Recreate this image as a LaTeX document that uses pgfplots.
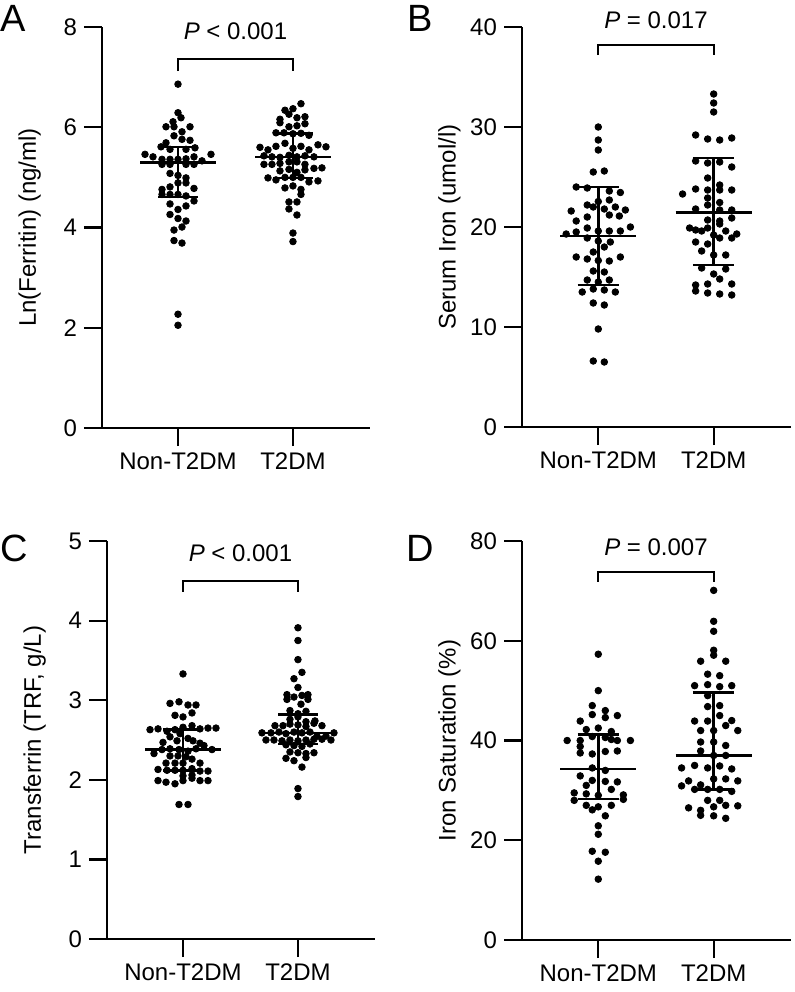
\documentclass[border=0pt]{standalone}
\usepackage{pgfplots}
\pgfplotsset{compat=1.18}
\usepackage{pgfplotstable}
\usepackage{fontspec}
\setmainfont{Liberation Sans}

% dot offsets d are in pixels of the original figure (115 px = one category step)
\pgfplotstableread{
d v
0 6.86
0 6.29
3 6.19
-5 6.11
-12 6.01
-4 6.01
12 6.01
4 5.91
-4 5.83
4 5.76
12 5.74
-12 5.69
-17 5.61
-8 5.56
8 5.56
17 5.59
-33 5.46
-25 5.41
33 5.46
-16 5.36
-8 5.36
0 5.36
8 5.37
16 5.41
24 5.33
-16 5.26
-8 5.26
8 5.26
16 5.26
-8 5.08
0 5.04
8 4.99
0 4.89
8 4.89
-16 4.76
-8 4.81
16 4.78
-16 4.66
-8 4.66
0 4.66
8 4.63
16 4.53
-8 4.47
8 4.43
0 4.36
-8 4.26
0 4.18
8 4.13
4 4.01
-4 3.95
-4 3.74
4 3.69
0 2.27
0 2.05
}\Anon
\pgfplotstableread{
d v
8 6.47
0 6.37
-8 6.34
-4 6.26
4 6.19
12 6.21
-13 6.16
-13 6.09
-4 6.01
4 6.03
12 6.07
-17 5.89
-9 5.89
0 5.87
8 5.88
16 5.84
-33 5.60
-25 5.55
-17 5.62
-8 5.68
0 5.58
8 5.62
16 5.55
25 5.65
33 5.61
-29 5.43
-21 5.41
-13 5.40
-4 5.44
4 5.41
12 5.43
21 5.41
-29 5.26
-21 5.26
-13 5.28
-4 5.31
4 5.31
12 5.26
21 5.18
29 5.19
-13 5.13
-4 5.16
4 5.10
12 5.15
-25 4.99
-17 4.95
-8 5.00
0 5.00
8 5.00
16 4.91
25 4.93
-8 4.79
0 4.83
8 4.76
8 4.66
-4 4.51
4 4.51
-4 4.37
4 4.25
0 3.89
0 3.72
}\Atd
\pgfplotstableread{
d v
0 30.0
0 28.7
0 27.7
-5 25.5
6 25.6
-22 24.0
-11 23.9
11 23.6
22 23.45
-11 22.2
0 22.55
11 22.7
17 22.0
-27 21.6
-5 22.0
6 21.8
27 21.7
21 21.1
-22 20.6
-11 21.0
11 21.2
-32 19.3
-22 19.5
-11 19.9
0 19.6
11 19.6
22 19.6
32 20.0
-11 18.9
0 18.6
6 18.0
12 18.5
-5 17.5
-22 17.0
-11 16.8
0 16.65
11 16.6
22 17.0
-5 15.6
6 15.5
-11 14.7
0 14.5
11 14.7
-16 13.5
-5 13.8
6 13.7
17 13.5
-5 12.4
6 12.2
0 9.8
-5 6.6
6 6.5
}\Bnon
\pgfplotstableread{
d v
0 33.3
0 32.4
0 31.5
-18 29.2
-6 28.8
6 28.7
18 28.9
-18 26.6
-6 26.4
6 26.5
18 26.0
-6 24.9
6 24.2
-31 23.3
-18 23.8
-6 23.7
6 23.7
18 23.7
-6 22.9
-6 22.2
6 22.45
-18 21.8
6 21.7
18 21.7
-6 20.7
6 20.6
18 20.9
-24 19.9
-18 19.7
-12 19.6
-6 19.9
6 20.3
12 19.6
23 19.3
-18 18.5
-6 18.3
0 19.2
6 18.9
18 18.9
-12 17.6
0 17.2
12 17.2
-12 15.9
0 15.3
12 15.8
-18 14.2
-6 14.3
6 14.8
18 14.3
-18 13.6
-6 13.4
6 13.3
18 13.2
}\Btd
\pgfplotstableread{
d v
0 3.33
-13 2.96
-4 2.98
5 2.94
13 2.94
-8 2.81
0 2.79
9 2.84
-33 2.63
-25 2.64
-16 2.61
-8 2.63
0 2.66
9 2.68
17 2.64
25 2.65
33 2.65
-20 2.47
-13 2.54
-6 2.49
-3 2.58
5 2.52
10 2.49
17 2.46
-29 2.33
-21 2.38
-13 2.39
-4 2.38
5 2.36
13 2.39
21 2.43
29 2.38
-13 2.30
-5 2.30
3 2.29
9 2.26
-17 2.21
-8 2.21
0 2.21
17 2.21
-25 2.13
-16 2.12
-8 2.12
0 2.12
9 2.14
17 2.11
25 2.11
0 2.05
9 2.06
-25 1.99
-17 1.97
-8 1.95
0 1.99
9 2.02
17 1.99
25 1.99
-4 1.69
5 1.69
}\Cnon
\pgfplotstableread{
d v
0 3.91
0 3.75
0 3.51
4 3.35
-4 3.27
0 3.16
-11 3.07
-11 3.01
-4 3.04
4 3.06
10 3.07
10 3.01
3 2.95
-8 2.87
8 2.86
0 2.83
-8 2.76
0 2.79
8 2.73
17 2.74
-23 2.68
-15 2.68
-8 2.70
0 2.69
8 2.67
16 2.71
24 2.68
-36 2.59
-27 2.59
-19 2.60
-12 2.58
-4 2.60
4 2.59
12 2.60
19 2.55
28 2.55
36 2.59
-32 2.50
-24 2.50
-16 2.49
-8 2.50
0 2.49
8 2.50
16 2.51
24 2.51
33 2.50
-12 2.44
-4 2.43
4 2.42
12 2.45
-8 2.35
0 2.34
8 2.33
16 2.34
-12 2.27
-4 2.24
8 2.28
4 2.16
0 1.89
0 1.79
}\Ctd
\pgfplotstableread{
d v
0 57.3
0 50.0
-6 47.0
7 46.0
-6 45.2
7 44.6
-18 43.9
19 45.0
-12 42.2
0 42.5
13 41.8
-31 40.0
-18 40.0
-6 40.8
7 40.6
13 40.2
19 40.0
32 40.0
-18 38.8
-18 37.5
-6 37.3
7 37.8
19 37.9
-6 34.5
7 34.0
-18 32.9
-6 32.0
7 31.8
19 31.7
-12 31.0
13 30.2
-24 29.5
-12 29.3
0 29.0
25 29.1
25 28.2
-24 28.0
-12 27.0
-6 26.1
0 26.7
13 27.0
7 24.9
0 22.9
0 21.2
-6 17.8
7 17.6
0 15.8
0 12.2
}\Dnon
\pgfplotstableread{
d v
0 70.1
0 63.9
0 61.9
0 58.1
0 57.1
-13 55.9
12 55.9
-6 53.3
6 53.0
-19 51.0
-6 51.2
6 50.8
18 51.0
-6 49.0
-6 46.8
6 47.0
-19 43.9
-6 43.9
6 45.0
12 43.0
18 44.0
-13 42.0
0 42.0
24 42.0
-13 39.7
0 39.7
12 39.0
-13 37.9
0 37.0
12 37.0
-32 34.5
-19 35.0
-6 34.5
6 34.9
18 34.3
-25 31.9
0 32.3
12 32.3
24 31.9
-32 30.9
-13 31.1
-19 30.2
-6 30.2
6 30.2
18 29.8
-6 28.0
6 28.0
-25 26.5
-13 26.0
0 26.7
12 27.0
24 26.9
-13 25.0
0 24.9
12 24.4
}\Dtd

\pgfplotsset{
  swarm/.style={
    scale only axis, anchor=south west,
    axis x line=bottom, axis y line=left,
    axis line style={-, line width=1.1pt},
    major tick style={line width=1.1pt, black},
    tick align=outside, major tick length=9pt,
    xmin=-0.661, xmax=1.67, ymin=0, enlargelimits=false,
    xtick={0,1}, xticklabels={Non-T2DM,T2DM},
    tick label style={font=\fontsize{12}{14}\selectfont},
    label style={font=\fontsize{12}{14}\selectfont},
    /pgf/number format/assume math mode=true,
    ylabel style={at={(axis description cs:-0.27,0.5)}, anchor=center},
    clip=false, unbounded coords=jump,
  },
  dots/.style={only marks, mark=*, mark size=1.65pt, black, mark options={fill=black, draw=black}},
  summ/.style={black, line width=1.3pt, mark=none},
}

\begin{document}
\begin{tikzpicture}
\useasboundingbox (0,0) rectangle (397pt,-496pt);
\node[font=\fontsize{19}{22}\selectfont] at (6.5pt,-9pt) {A};
\node[font=\fontsize{19}{22}\selectfont] at (210pt,-9pt) {B};
\node[font=\fontsize{19}{22}\selectfont] at (7pt,-274pt) {C};
\node[font=\fontsize{19}{22}\selectfont] at (210pt,-274pt) {D};

% A
\begin{axis}[swarm, at={(51pt,-214pt)}, width=134pt, height=200.5pt,
  ymax=8, ytick={0,2,4,6,8}, ylabel={Ln(Ferritin) (ng/ml)}]
\addplot[dots] table[x expr=\thisrow{d}/115, y=v] {\Anon};
\addplot[dots] table[x expr=\thisrow{d}/115+1, y=v] {\Atd};
\addplot[summ] coordinates {(-0.33,5.3) (0.33,5.3) (nan,nan) (-0.17,5.61) (0.17,5.61) (nan,nan) (0,5.61) (0,4.61) (nan,nan) (-0.17,4.61) (0.17,4.61)};
\addplot[summ] coordinates {(0.67,5.41) (1.33,5.41) (nan,nan) (0.83,5.87) (1.17,5.87) (nan,nan) (1,5.87) (1,4.99) (nan,nan) (0.83,4.99) (1.17,4.99)};
\draw[line width=1pt] (axis cs:0,7.12) -- (axis cs:0,7.36) -- (axis cs:1,7.36) -- (axis cs:1,7.12);
\node[font=\fontsize{12}{14}\selectfont] at (axis cs:0.5,7.92) {\textit{P} < 0.001};
\end{axis}

% B
\begin{axis}[swarm, at={(261pt,-213.5pt)}, width=134.5pt, height=200pt,
  ymax=40, ytick={0,10,20,30,40}, ylabel={Serum Iron (umol/l)}]
\addplot[dots] table[x expr=\thisrow{d}/115, y=v] {\Bnon};
\addplot[dots] table[x expr=\thisrow{d}/115+1, y=v] {\Btd};
\addplot[summ] coordinates {(-0.33,19.1) (0.33,19.1) (nan,nan) (-0.18,24.0) (0.18,24.0) (nan,nan) (0,24.0) (0,14.2) (nan,nan) (-0.18,14.2) (0.18,14.2)};
\addplot[summ] coordinates {(0.67,21.46) (1.33,21.46) (nan,nan) (0.82,26.9) (1.18,26.9) (nan,nan) (1,26.9) (1,16.2) (nan,nan) (0.82,16.2) (1.18,16.2)};
\draw[line width=1pt] (axis cs:0,37.2) -- (axis cs:0,38.2) -- (axis cs:1,38.2) -- (axis cs:1,37.2);
\node[font=\fontsize{12}{14}\selectfont] at (axis cs:0.5,40.7) {\textit{P} = 0.017};
\end{axis}

% C
\begin{axis}[swarm, at={(53.5pt,-469.5pt)}, width=134pt, height=199pt,
  ymax=5, ytick={0,1,2,3,4,5}, ylabel={Transferrin (TRF, g/L)}]
\addplot[dots] table[x expr=\thisrow{d}/115, y=v] {\Cnon};
\addplot[dots] table[x expr=\thisrow{d}/115+1, y=v] {\Ctd};
\addplot[summ] coordinates {(-0.33,2.38) (0.33,2.38) (nan,nan) (-0.17,2.63) (0.17,2.63) (nan,nan) (0,2.63) (0,2.12) (nan,nan) (-0.17,2.12) (0.17,2.12)};
\addplot[summ] coordinates {(0.67,2.59) (1.33,2.59) (nan,nan) (0.83,2.82) (1.17,2.82) (nan,nan) (1,2.82) (1,2.45) (nan,nan) (0.83,2.45) (1.17,2.45)};
\draw[line width=1pt] (axis cs:0,4.36) -- (axis cs:0,4.50) -- (axis cs:1,4.50) -- (axis cs:1,4.36);
\node[font=\fontsize{12}{14}\selectfont] at (axis cs:0.5,4.85) {\textit{P} < 0.001};
\end{axis}

% D
\begin{axis}[swarm, at={(261pt,-470pt)}, width=134.5pt, height=199.5pt,
  ymax=80, ytick={0,20,40,60,80}, ylabel={Iron Saturation (\%)}]
\addplot[dots] table[x expr=\thisrow{d}/115, y=v] {\Dnon};
\addplot[dots] table[x expr=\thisrow{d}/115+1, y=v] {\Dtd};
\addplot[summ] coordinates {(-0.33,34.3) (0.33,34.3) (nan,nan) (-0.18,41.2) (0.18,41.2) (nan,nan) (0,41.2) (0,28.3) (nan,nan) (-0.18,28.3) (0.18,28.3)};
\addplot[summ] coordinates {(0.67,37.0) (1.33,37.0) (nan,nan) (0.82,49.6) (1.18,49.6) (nan,nan) (1,49.6) (1,30.2) (nan,nan) (0.82,30.2) (1.18,30.2)};
\draw[line width=1pt] (axis cs:0,71.8) -- (axis cs:0,73.8) -- (axis cs:1,73.8) -- (axis cs:1,71.8);
\node[font=\fontsize{12}{14}\selectfont] at (axis cs:0.5,78.8) {\textit{P} = 0.007};
\end{axis}
\end{tikzpicture}
\end{document}
